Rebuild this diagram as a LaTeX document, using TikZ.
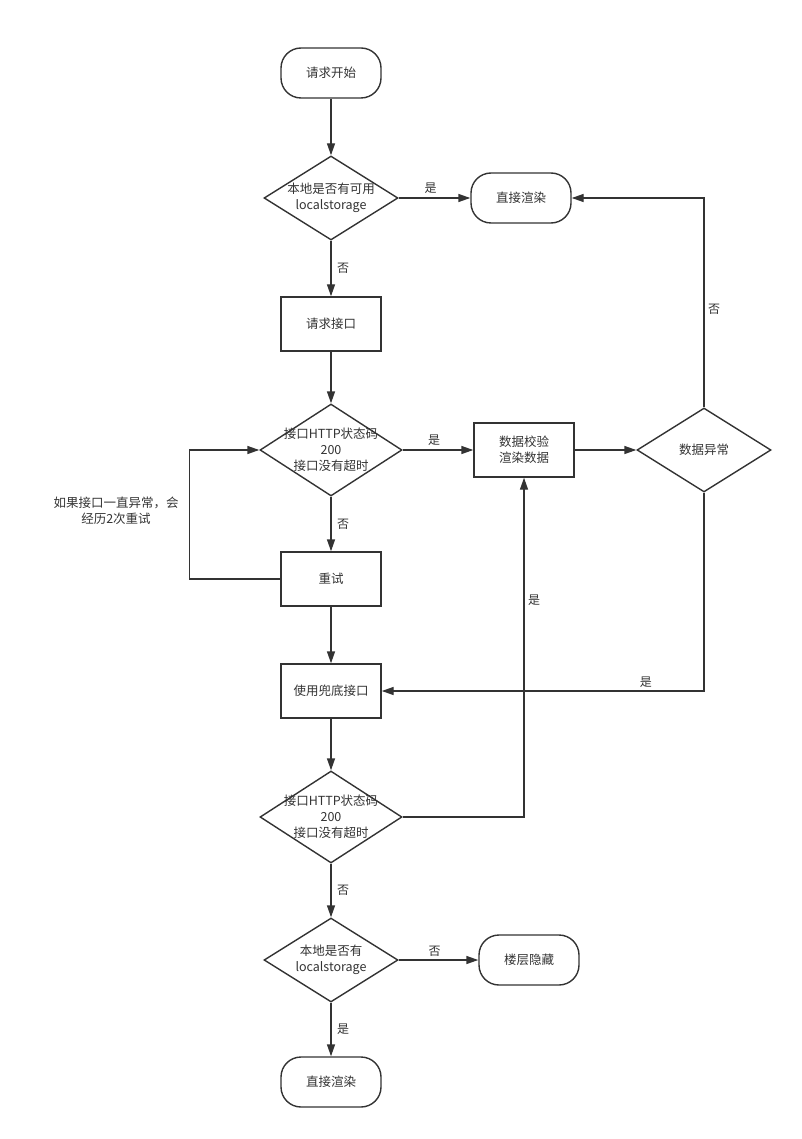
\documentclass[tikz,border=0pt]{standalone}
\usepackage{fontspec}
\setmainfont{Noto Sans CJK SC}
\usetikzlibrary{shapes.geometric, arrows.meta, positioning}
\definecolor{linegray}{HTML}{333333}

\begin{document}
\begin{tikzpicture}[
    x=1pt, y=-1pt,
    every node/.style={font=\fontsize{12.5}{16}\selectfont, text=linegray},
    term/.style={draw=linegray, line width=1.4pt, rounded corners=20pt, minimum width=100pt, minimum height=50pt},
    proc/.style={draw=linegray, line width=1.4pt, minimum width=100pt, minimum height=54pt, align=center},
    decision/.style={diamond, draw=linegray, line width=1.4pt, minimum width=#1, minimum height=84pt, inner sep=0pt},
    decision/.default=134pt,
    arrow/.style={-{Triangle[length=12pt, width=8pt]}, draw=linegray, line width=1.4pt},
    label node/.style={font=\fontsize{12}{14}\selectfont}
]
\useasboundingbox (0,0) rectangle (802,1139);

% Main Nodes
\node[term] (start) at (331,73) {请求开始};
\node[decision, label={[align=center]center:本地是否有可用\\localstorage}] (local) at (331,198) {};
\node[term] (render) at (521,198) {直接渲染};
\node[proc] (request) at (331,324) {请求接口};
\node[decision=142pt, minimum height=92pt, label={[align=center]center:接口HTTP状态码\\200\\接口没有超时}] (status) at (331,450) {};
\node[proc] (check) at (524,450) {数据校验\\渲染数据};
\node[decision] (abnormal) at (704,450) {};
\node at (abnormal) {数据异常};
\node[proc] (retry) at (331,579) {重试};
\node[align=center] (note) at (116,511) {如果接口一直异常，会\\经历2次重试};
\node[proc] (fallback) at (331,691) {使用兜底接口};
\node[decision=142pt, minimum height=92pt, label={[align=center]center:接口HTTP状态码\\200\\接口没有超时}] (status2) at (331,817) {};
\node[decision, label={[align=center]center:本地是否有\\localstorage}] (hasLocal) at (331,960) {};
\node[term] (hide) at (529,960) {楼层隐藏};
\node[term] (render2) at (331,1082) {直接渲染};

% Vertical arrows
\draw[arrow] (start) -- (local);
\draw[arrow] (local) -- node[label node, right, xshift=2pt] {否} (request);
\draw[arrow] (request) -- (status);
\draw[arrow] (status) -- node[label node, right, xshift=2pt] {否} (retry);
\draw[arrow] (retry) -- (fallback);
\draw[arrow] (fallback) -- (status2);
\draw[arrow] (status2) -- node[label node, right, xshift=2pt] {否} (hasLocal);
\draw[arrow] (hasLocal) -- node[label node, right, xshift=2pt] {是} (render2);

% Horizontal arrows
\draw[arrow] (local) -- node[label node, above, xshift=-4pt] {是} (render);
\draw[arrow] (status) -- node[label node, above, xshift=-4pt] {是} (check);
\draw[arrow] (check) -- (abnormal);
\draw[arrow] (hasLocal) -- node[label node, above, xshift=-4pt] {否} (hide);

% Loop back arrows
\draw[arrow] (abnormal.north) |- node[label node, right, pos=0.235] {否} (render.east);
\draw[arrow] (retry.west) -- ++(-91,0) |- (status.west);
\draw[arrow] (abnormal.south) |- node[label node, above, pos=0.59] {是} (fallback.east);
\draw[arrow] (status2.east) -| node[label node, right, pos=0.82] {是} (check.south);
\end{tikzpicture}
\end{document}
